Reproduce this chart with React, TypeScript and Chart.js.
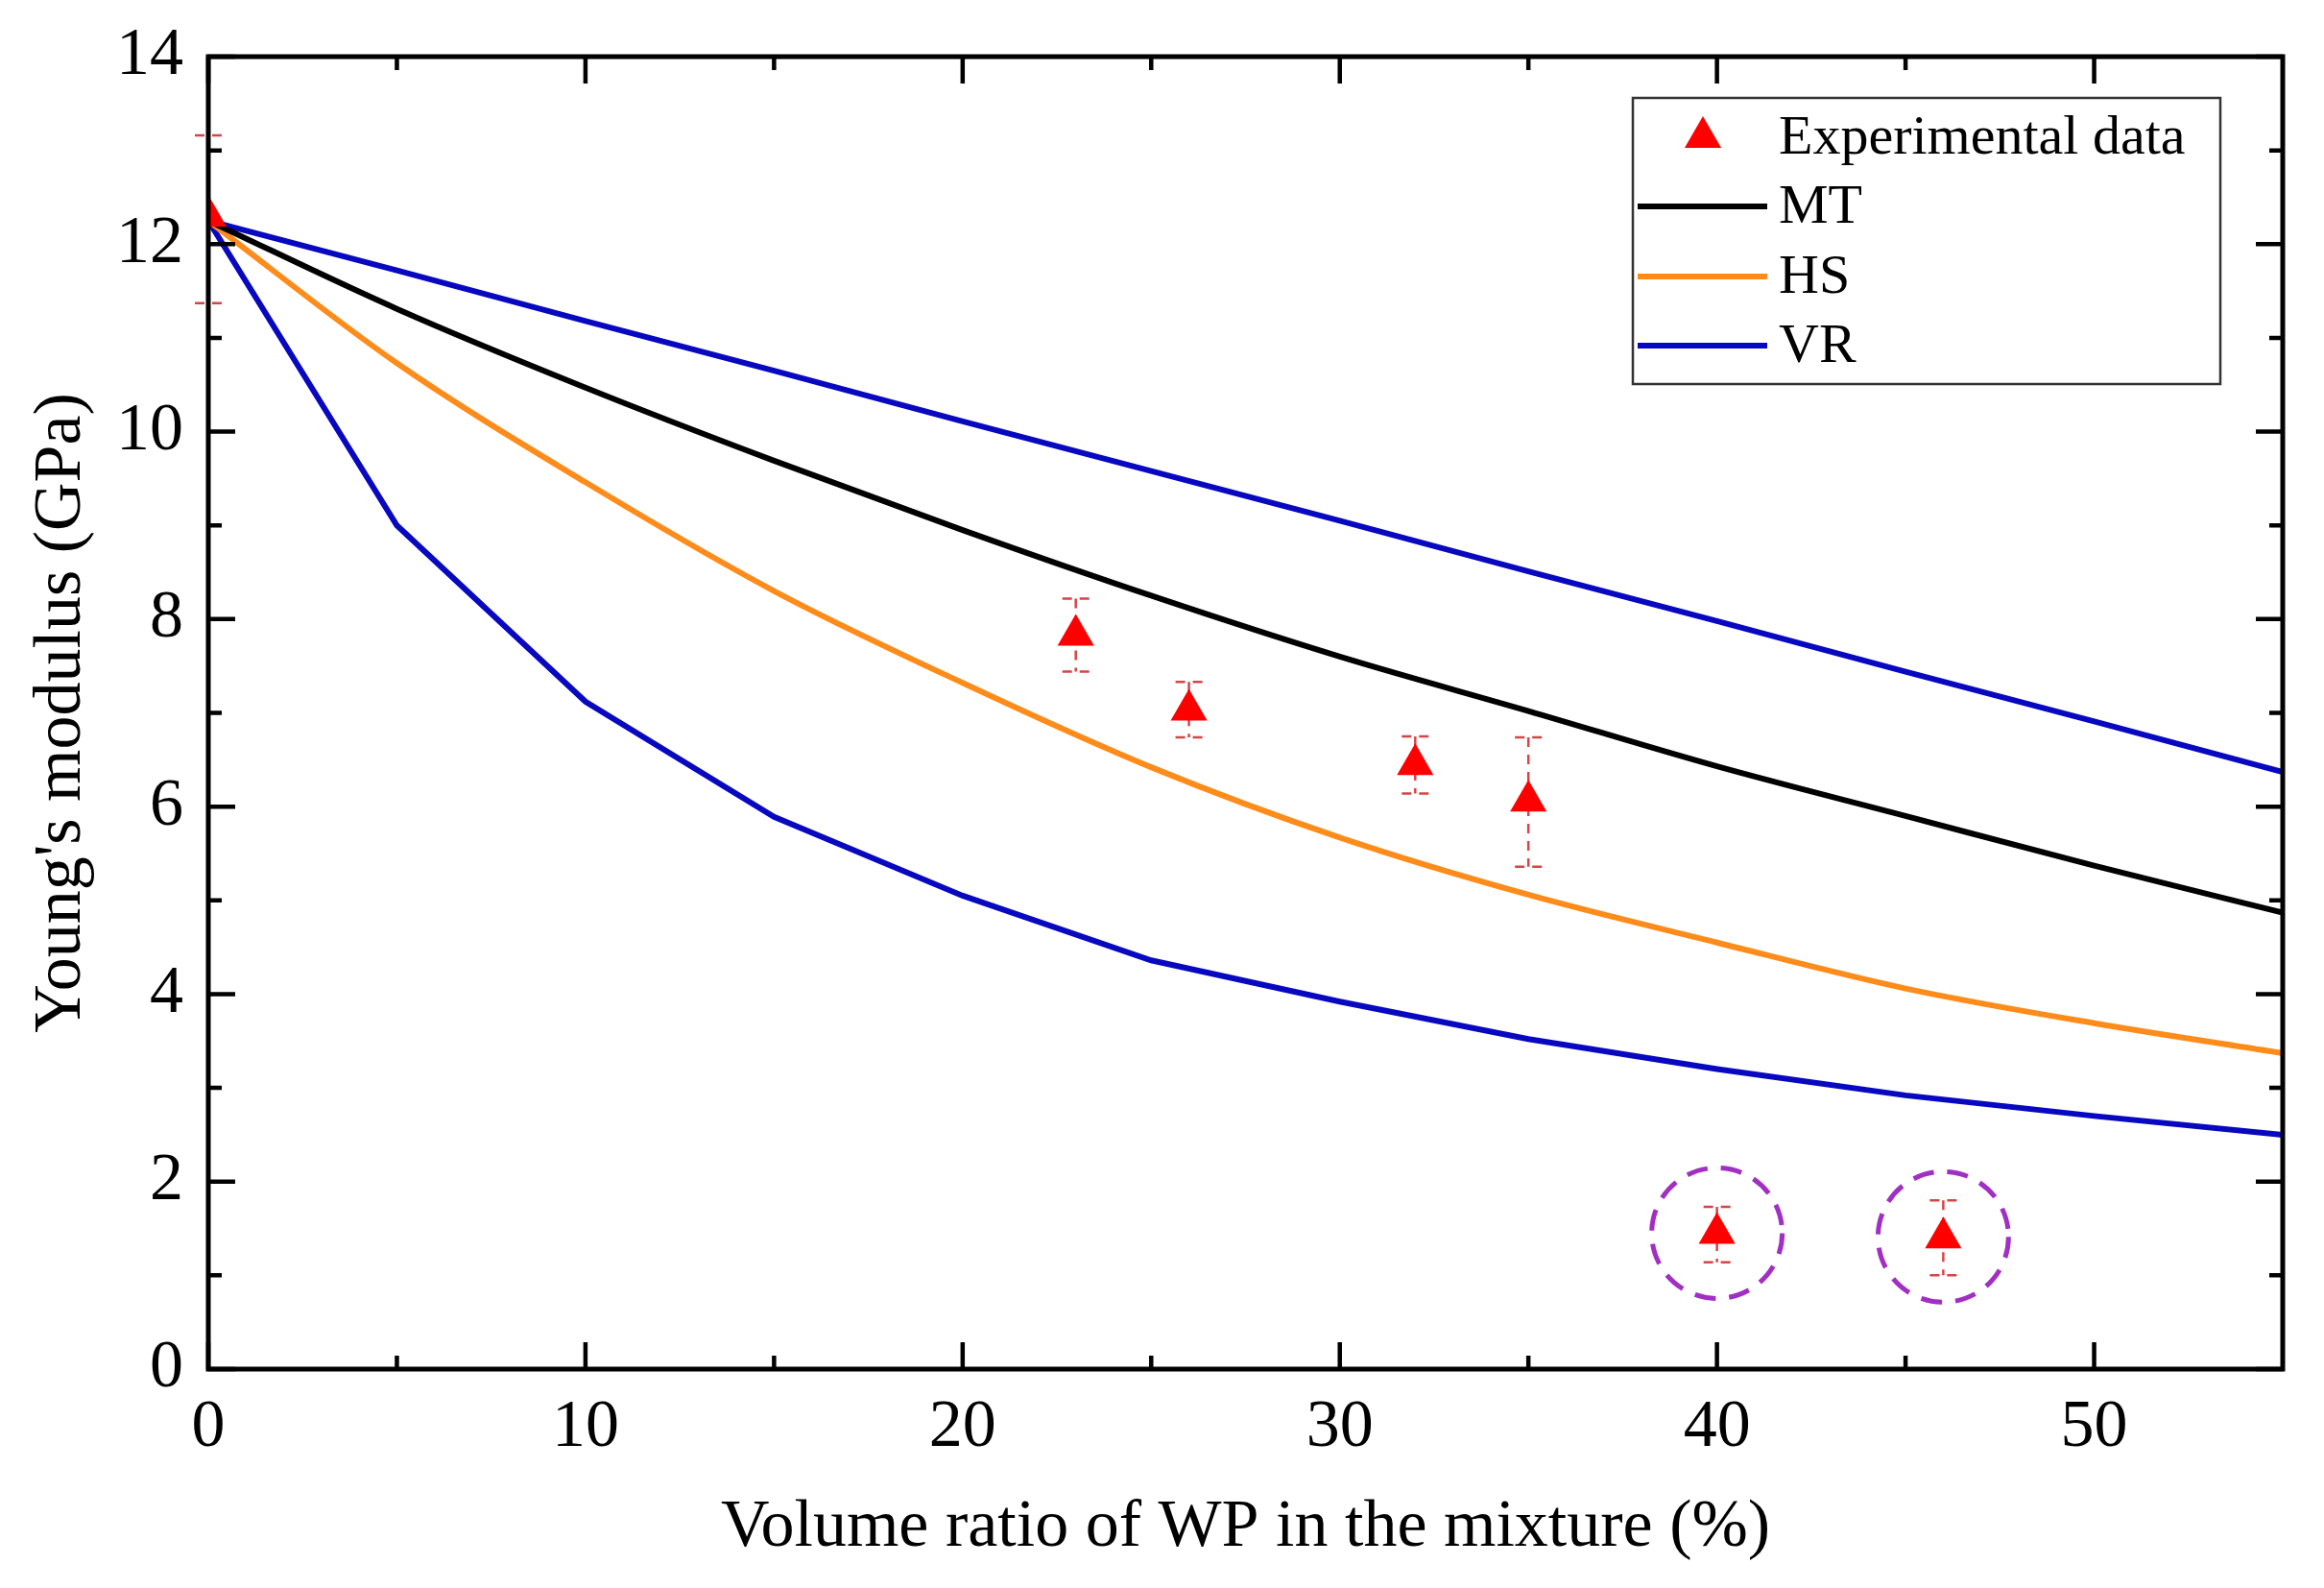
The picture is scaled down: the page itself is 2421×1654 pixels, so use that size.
import { useEffect, useRef } from 'react';
import { Chart, registerables } from 'chart.js';

Chart.register(...registerables);

const FONT = "'Liberation Serif', 'Times New Roman', serif";

// model curves, volume ratio in steps of 5 %
const modelX = [0, 5, 10, 15, 20, 25, 30, 35, 40, 45, 50, 55];
const mtValues = [12.25, 11.31, 10.47, 9.69, 8.95, 8.25, 7.6, 7.02, 6.43, 5.9, 5.37, 4.87];
const hsValues = [12.25, 10.73, 9.46, 8.3, 7.32, 6.42, 5.67, 5.06, 4.55, 4.06, 3.69, 3.37];
const vrUpper = [12.25, 11.72, 11.18, 10.65, 10.11, 9.58, 9.05, 8.51, 7.98, 7.44, 6.91, 6.37];
const vrLower = [12.25, 9.0, 7.12, 5.89, 5.05, 4.36, 3.92, 3.52, 3.2, 2.92, 2.7, 2.5];

// experimental points with error bars
const expX = [0, 23, 26, 32, 35, 40, 46];
const expY = [12.3, 7.83, 7.03, 6.45, 6.06, 1.45, 1.4];
const expHigh = [13.16, 8.22, 7.33, 6.75, 6.74, 1.73, 1.8];
const expLow = [11.37, 7.44, 6.74, 6.14, 5.36, 1.14, 1.0];

// outliers marked with a dashed circle
const circledX = [40, 46];
const circledY = [1.45, 1.41];

const xTicks = [0, 10, 20, 30, 40, 50];
const xMinor = [5, 15, 25, 35, 45];
const yTicks = [0, 2, 4, 6, 8, 10, 12, 14];
const yMinor = [1, 3, 5, 7, 9, 11, 13];

const drawTriangle = (ctx, x, y, r) => {
  let rad = 0;
  ctx.beginPath();
  ctx.moveTo(x + Math.sin(rad) * r, y - Math.cos(rad) * r);
  rad += (2 * Math.PI) / 3;
  ctx.lineTo(x + Math.sin(rad) * r, y - Math.cos(rad) * r);
  rad += (2 * Math.PI) / 3;
  ctx.lineTo(x + Math.sin(rad) * r, y - Math.cos(rad) * r);
  ctx.closePath();
  ctx.fill();
};

const decorations = {
  id: 'decorations',
  beforeDatasetsDraw(chart) {
    const { ctx, scales } = chart;
    const x = scales.x;
    const y = scales.y;
    ctx.save();
    ctx.strokeStyle = '#d64545';
    ctx.lineWidth = 2.5;
    ctx.setLineDash([10, 8]);
    expX.forEach((v, i) => {
      const px = x.getPixelForValue(v);
      const top = y.getPixelForValue(expHigh[i]);
      const bot = y.getPixelForValue(expLow[i]);
      ctx.beginPath();
      ctx.moveTo(px, top);
      ctx.lineTo(px, bot);
      ctx.stroke();
      ctx.beginPath();
      ctx.moveTo(px - 14, top);
      ctx.lineTo(px + 14, top);
      ctx.moveTo(px - 14, bot);
      ctx.lineTo(px + 14, bot);
      ctx.stroke();
    });
    ctx.restore();
  },
  afterDatasetsDraw(chart) {
    const { ctx, chartArea, scales } = chart;
    const x = scales.x;
    const y = scales.y;
    const { left, right, top, bottom } = chartArea;
    ctx.save();

    // dashed circles round the last two points
    ctx.strokeStyle = '#a22fc4';
    ctx.lineWidth = 5;
    ctx.setLineDash([22, 14]);
    circledX.forEach((v, i) => {
      ctx.beginPath();
      ctx.arc(x.getPixelForValue(v), y.getPixelForValue(circledY[i]), 68, 0, Math.PI * 2);
      ctx.stroke();
    });

    // frame with inward ticks on all four sides
    ctx.setLineDash([]);
    ctx.strokeStyle = '#000';
    ctx.lineWidth = 5;
    ctx.strokeRect(left, top, right - left, bottom - top);
    ctx.lineWidth = 4.5;
    const tickX = (vals, len) => {
      vals.forEach((v) => {
        const px = x.getPixelForValue(v);
        ctx.beginPath();
        ctx.moveTo(px, bottom);
        ctx.lineTo(px, bottom - len);
        ctx.moveTo(px, top);
        ctx.lineTo(px, top + len);
        ctx.stroke();
      });
    };
    const tickY = (vals, len) => {
      vals.forEach((v) => {
        const py = y.getPixelForValue(v);
        ctx.beginPath();
        ctx.moveTo(left, py);
        ctx.lineTo(left + len, py);
        ctx.moveTo(right, py);
        ctx.lineTo(right - len, py);
        ctx.stroke();
      });
    };
    tickX(xTicks, 28);
    tickX(xMinor, 14);
    tickY(yTicks, 28);
    tickY(yMinor, 14);

    // legend box
    const bx = right - 677;
    const by = top + 43;
    ctx.fillStyle = '#fff';
    ctx.fillRect(bx, by, 612, 298);
    ctx.strokeStyle = '#333';
    ctx.lineWidth = 2.5;
    ctx.strokeRect(bx, by, 612, 298);
    ctx.font = `58px ${FONT}`;
    ctx.textBaseline = 'middle';
    ctx.textAlign = 'left';
    const rows = [top + 84, top + 156, top + 229, top + 301];
    chart.data.datasets.forEach((ds, i) => {
      if (i >= rows.length) return;
      const ry = rows[i];
      if (ds.showLine === false) {
        ctx.fillStyle = ds.backgroundColor;
        drawTriangle(ctx, bx + 73, ry, 22);
      } else {
        ctx.strokeStyle = ds.borderColor;
        ctx.lineWidth = 6;
        ctx.beginPath();
        ctx.moveTo(bx + 5, ry);
        ctx.lineTo(bx + 140, ry);
        ctx.stroke();
      }
      ctx.fillStyle = '#000';
      ctx.fillText(ds.label, bx + 152, ry + 2);
    });
    ctx.restore();
  },
};

const App = () => {
  const canvasRef = useRef(null);
  const chartRef = useRef(null);

  useEffect(() => {
    const ctx = canvasRef.current.getContext('2d');
    if (chartRef.current) chartRef.current.destroy();

    const line = (label, values, color, mode) => ({
      label,
      data: modelX.map((v, i) => ({ x: v, y: values[i] })),
      borderColor: color,
      backgroundColor: color,
      borderWidth: 6,
      pointRadius: 0,
      tension: mode === 'smooth' ? 0.4 : 0,
      cubicInterpolationMode: mode === 'smooth' ? 'monotone' : 'default',
      clip: 0,
    });

    chartRef.current = new Chart(ctx, {
      type: 'line',
      data: {
        datasets: [
          {
            label: 'Experimental data',
            data: expX.map((v, i) => ({ x: v, y: expY[i] })),
            showLine: false,
            pointStyle: 'triangle',
            pointRadius: 22,
            backgroundColor: '#ff0000',
            borderColor: '#ff0000',
            borderWidth: 0,
            clip: 0,
          },
          line('MT', mtValues, '#000000', 'smooth'),
          line('HS', hsValues, '#ff8c1a', 'smooth'),
          line('VR', vrLower, '#0808c0', 'straight'),
          line('VR upper', vrUpper, '#0808c0', 'straight'),
        ],
      },
      options: {
        animation: false,
        responsive: true,
        maintainAspectRatio: false,
        devicePixelRatio: 1,
        layout: { padding: { top: 51, right: 35, left: 0, bottom: 0 } },
        plugins: {
          legend: { display: false },
          tooltip: { enabled: false },
        },
        scales: {
          x: {
            type: 'linear',
            min: 0,
            max: 55,
            grid: { display: false, drawTicks: false },
            border: { display: false },
            afterBuildTicks: (s) => {
              s.ticks = xTicks.map((v) => ({ value: v }));
            },
            afterFit: (s) => {
              s.height = 220;
              s.paddingLeft = 0;
              s.paddingRight = 0;
            },
            ticks: {
              font: { family: FONT, size: 70 },
              color: '#000',
              padding: 20,
              maxRotation: 0,
              autoSkip: false,
            },
            title: {
              display: true,
              text: 'Volume ratio of WP in the mixture (%)',
              font: { family: FONT, size: 70 },
              color: '#000',
              padding: { top: 0, bottom: 12 },
            },
          },
          y: {
            type: 'linear',
            min: 0,
            max: 14,
            grid: { display: false, drawTicks: false },
            border: { display: false },
            afterBuildTicks: (s) => {
              s.ticks = yTicks.map((v) => ({ value: v }));
            },
            afterFit: (s) => {
              s.width = 209;
              s.paddingTop = 0;
              s.paddingBottom = 0;
            },
            ticks: {
              font: { family: FONT, size: 70 },
              color: '#000',
              padding: 26,
              autoSkip: false,
            },
            title: {
              display: true,
              text: "Young's modulus (GPa)",
              font: { family: FONT, size: 70 },
              color: '#000',
              padding: { top: 15, bottom: 0 },
            },
          },
        },
      },
      plugins: [decorations],
    });

    return () => {
      if (chartRef.current) {
        chartRef.current.destroy();
        chartRef.current = null;
      }
    };
  }, []);

  return (
    <div style={{ position: 'relative', width: 2405, height: 1638, background: '#fff' }}>
      <canvas ref={canvasRef}></canvas>
    </div>
  );
};

export default App;
